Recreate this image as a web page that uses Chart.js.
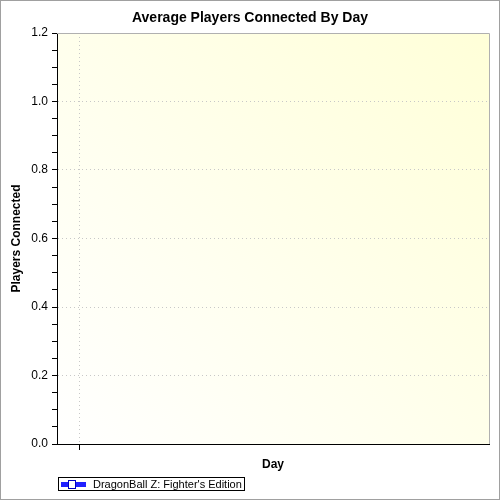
<!DOCTYPE html>
<html><head><script src="https://cdn.jsdelivr.net/npm/chart.js@4"></script>
<style>html,body{margin:0;padding:0;background:#fff}#w{width:500px;height:500px}</style></head>
<body><div id="w"><canvas id="c" width="500" height="500"></canvas></div>
<script>
const chartTitle = "Average Players Connected By Day";
const seriesName = "DragonBall Z: Fighter's Edition";
const seriesValues = [];
const yMin = 0, yMax = 1.2, yMajor = 0.2, yMinor = 0.05;
const xTickValues = [1];

const deco = {
  id: 'deco',
  beforeDraw(ch) {
    const {ctx, chartArea: a} = ch;
    ctx.save();
    ctx.fillStyle = '#fff'; ctx.fillRect(0,0,500,500);
    const g = ctx.createLinearGradient(a.left, a.bottom, a.right, a.top);
    g.addColorStop(0, '#ffffff'); g.addColorStop(1, '#ffffd8');
    ctx.fillStyle = g; ctx.fillRect(a.left, a.top, a.right-a.left, a.bottom-a.top);
    ctx.restore();
  },
  afterDraw(ch) {
    const {ctx, chartArea: a} = ch;
    ctx.save();
    ctx.strokeStyle = '#a0a0a0'; ctx.lineWidth = 1;
    ctx.strokeRect(0.5,0.5,499,499);
    ctx.strokeStyle = '#b0b0b0';
    ctx.beginPath(); ctx.moveTo(a.left, a.top+0.5); ctx.lineTo(a.right+0.5, a.top+0.5); ctx.lineTo(a.right+0.5, a.bottom); ctx.stroke();
    ctx.fillStyle = '#000'; ctx.font = 'bold 14px "Liberation Sans", Arial';
    ctx.textAlign = 'center'; ctx.textBaseline = 'middle';
    ctx.fillText(chartTitle, 250, 18);
    // legend
    ctx.strokeStyle = '#000'; ctx.strokeRect(58.5, 477.5, 186, 13);
    ctx.fillStyle = '#2020ff'; ctx.fillRect(61, 482, 25, 5);
    ctx.fillStyle = '#fff'; ctx.strokeStyle = '#0000c0';
    ctx.fillRect(68.5, 480.5, 7, 8); ctx.strokeRect(68.5, 480.5, 7, 8);
    ctx.fillStyle = '#000'; ctx.font = '11px "Liberation Sans", Arial';
    ctx.textAlign = 'left'; ctx.fillText(seriesName, 93, 484.5);
    ctx.restore();
  }
};

const isMajor = v => Math.abs(v/yMajor - Math.round(v/yMajor)) < 1e-6;

new Chart(document.getElementById('c'), {
  type: 'line',
  data: { datasets: [{ label: seriesName, data: seriesValues, borderColor: '#2020ff' }] },
  options: {
    responsive: false, animation: false, devicePixelRatio: 1,
    layout: { padding: { left: 0, right: 11, top: 33, bottom: 0 } },
    plugins: { legend: { display: false }, title: { display: false }, tooltip: { enabled: false } },
    scales: {
      x: {
        type: 'linear', min: 0, max: 18.8,
        afterBuildTicks: s => { s.ticks = xTickValues.map(v => ({value: v})); },
        afterFit: s => { s.height = 56; },
        ticks: { display: true, callback: () => '', padding: 0, autoSkip: false },
        grid: { color: '#c8c8c8', tickColor: '#000', tickLength: 6, lineWidth: 1 },
        border: { color: '#000', dash: [1, 3] },
        title: { display: true, text: 'Day', color: '#000', font: { family: '"Liberation Sans", Arial', size: 12, weight: 'bold' }, padding: { top: 0, bottom: 28 } }
      },
      y: {
        min: yMin, max: yMax,
        afterBuildTicks: s => { const t=[]; for (let v=yMin; v<=yMax+1e-9; v+=yMinor) t.push({value: Math.round(v*100)/100}); s.ticks = t; },
        afterFit: s => { s.width = 57; },
        ticks: { color: '#000', font: { family: '"Liberation Sans", Arial', size: 12 }, padding: 4, autoSkip: false,
          callback: v => isMajor(v) ? v.toFixed(1) : '' },
        grid: { color: c => (c.tick && isMajor(c.tick.value) && c.tick.value > 0 && c.tick.value < yMax) ? '#c8c8c8' : 'rgba(0,0,0,0)',
          tickColor: '#000', tickLength: 5, lineWidth: 1 },
        border: { color: '#000', dash: [1, 3] },
        title: { display: true, text: 'Players Connected', color: '#000', font: { family: '"Liberation Sans", Arial', size: 12, weight: 'bold' }, padding: { top: 9, bottom: 2 } }
      }
    }
  },
  plugins: [deco]
});
</script></body></html>
